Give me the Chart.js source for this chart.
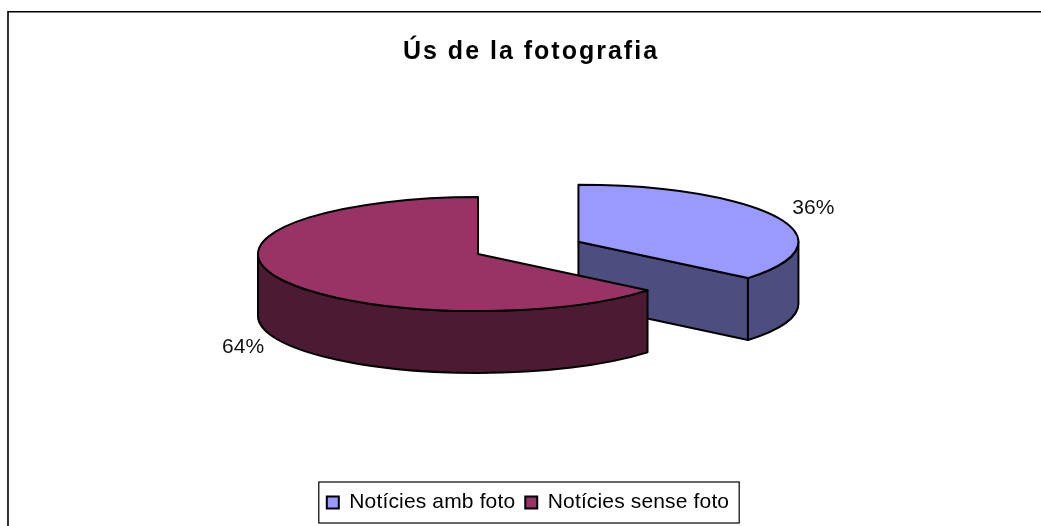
<!DOCTYPE html>
<html>
<head>
<meta charset="utf-8">
<style>html,body{margin:0;padding:0;background:#fff}canvas{display:block}</style>
<script src="https://cdn.jsdelivr.net/npm/chart.js@4/dist/chart.umd.js"></script>
</head>
<body>
<canvas id="c" width="1041" height="526"></canvas>
<script>
const titleText = 'Ús de la fotografia';
const categories = ['Notícies amb foto', 'Notícies sense foto'];
const seriesValues = [36, 64];
const topColors = ['#9999FF', '#993366'];
const sideColors = ['#4D4D80', '#4D1A33'];
const explode = [111, 0];

const FONT = '"Liberation Sans", Arial, sans-serif';
const SQUASH = 57 / 220, DEPTH = 62, PIE_CX = 478, PIE_CY = 254;
const LEGEND_SPACING = '0.15px', TITLE_SPACING = '2px';

const pie3d = {
  id: 'pie3d',
  beforeLayout(chart) {
    chart.ctx.letterSpacing = LEGEND_SPACING;
  },
  afterLayout(chart) {
    const tb = chart.titleBlock;
    if (tb && !tb.__wrapped) {
      const d = tb.draw;
      tb.draw = function () {
        const ctx = chart.ctx;
        ctx.save();
        ctx.translate(3, 0);
        ctx.letterSpacing = TITLE_SPACING;
        d.call(this);
        ctx.restore();
        ctx.letterSpacing = LEGEND_SPACING;
      };
      tb.__wrapped = true;
    }
  },
  beforeDraw(chart) {
    const ctx = chart.ctx;
    ctx.save();
    ctx.strokeStyle = '#000';
    ctx.lineWidth = 1.6;
    ctx.beginPath();
    ctx.moveTo(1041, 11.8);
    ctx.lineTo(8, 11.8);
    ctx.lineTo(8, 526);
    ctx.stroke();
    ctx.restore();
  },
  beforeDatasetDraw() { return false; },
  afterDatasetsDraw(chart) {
    const ctx = chart.ctx;
    const arcs = chart.getDatasetMeta(0).data;
    const a0 = chart.chartArea;
    const ox = (a0.left + a0.right) / 2, oy = (a0.top + a0.bottom) / 2;
    const geom = arc => {
      const p = arc.getProps(['x', 'y', 'startAngle', 'endAngle', 'outerRadius'], true);
      const mid = (p.startAngle + p.endAngle) / 2, off = arc.options.offset || 0;
      return {
        s: p.startAngle, e: p.endAngle, r: p.outerRadius, mid,
        cx: p.x - ox + PIE_CX + Math.cos(mid) * off,
        cy: PIE_CY + (p.y - oy + Math.sin(mid) * off) * SQUASH
      };
    };
    ctx.save();
    ctx.lineWidth = 2;
    ctx.lineJoin = 'round';
    ctx.strokeStyle = '#000';
    arcs.forEach((arc, i) => {
      const { s, e, r, cx, cy } = geom(arc);
      const ry = r * SQUASH;
      if (Math.cos(e) > 1e-3) {
        const ex = cx + Math.cos(e) * r, ey = cy + Math.sin(e) * ry;
        ctx.beginPath();
        ctx.moveTo(cx, cy); ctx.lineTo(ex, ey); ctx.lineTo(ex, ey + DEPTH); ctx.lineTo(cx, cy + DEPTH); ctx.closePath();
        ctx.fillStyle = sideColors[i]; ctx.fill(); ctx.stroke();
      }
      const a = Math.max(s, 0), b = Math.min(e, Math.PI);
      if (b > a) {
        ctx.beginPath();
        ctx.ellipse(cx, cy, r, ry, 0, a, b);
        ctx.ellipse(cx, cy + DEPTH, r, ry, 0, b, a, true);
        ctx.closePath();
        ctx.fillStyle = sideColors[i]; ctx.fill(); ctx.stroke();
      }
      ctx.beginPath();
      ctx.moveTo(cx, cy);
      ctx.ellipse(cx, cy, r, ry, 0, s, e);
      ctx.closePath();
      ctx.fillStyle = topColors[i]; ctx.fill(); ctx.stroke();
    });
    ctx.letterSpacing = '0px';
    ctx.font = '21px ' + FONT;
    ctx.fillStyle = '#111';
    ctx.textAlign = 'center';
    ctx.textBaseline = 'middle';
    arcs.forEach((arc, i) => {
      const { r, cx, cy, mid } = geom(arc);
      const lx = cx + Math.cos(mid) * r * 1.18;
      const ly = cy + Math.sin(mid) * r * SQUASH * 1.4 + (Math.sin(mid) > 0 ? DEPTH - 3 : 0);
      ctx.fillText(seriesValues[i] + '%', lx, ly);
    });
    ctx.restore();
    ctx.letterSpacing = LEGEND_SPACING;
  },
  afterDraw(chart) {
    const ctx = chart.ctx, hb = chart.legend.legendHitBoxes;
    const left = Math.min(...hb.map(h => h.left)) - 8;
    const right = Math.max(...hb.map(h => h.left + h.width)) + 10;
    const top = hb[0].top, bottom = hb[0].top + hb[0].height;
    ctx.save();
    ctx.strokeStyle = '#000';
    ctx.lineWidth = 1.2;
    ctx.strokeRect(left, top - 10, right - left, bottom - top + 20);
    ctx.restore();
  }
};

new Chart(document.getElementById('c'), {
  type: 'pie',
  plugins: [pie3d],
  data: {
    labels: categories,
    datasets: [{
      data: seriesValues,
      backgroundColor: topColors,
      borderColor: '#000',
      borderWidth: 2,
      offset: explode
    }]
  },
  options: {
    responsive: false,
    animation: false,
    radius: 220,
    layout: { padding: { left: 15, right: 0, top: 0, bottom: 3 } },
    plugins: {
      tooltip: { enabled: false },
      title: {
        display: true,
        text: titleText,
        color: '#000',
        font: { family: FONT, size: 25, weight: 'bold' },
        padding: { top: 37, bottom: 10 }
      },
      legend: {
        position: 'bottom',
        labels: {
          color: '#000',
          font: { family: FONT, size: 21 },
          boxWidth: 12,
          boxHeight: 12,
          padding: 10
        }
      }
    }
  }
});
</script>
</body>
</html>
